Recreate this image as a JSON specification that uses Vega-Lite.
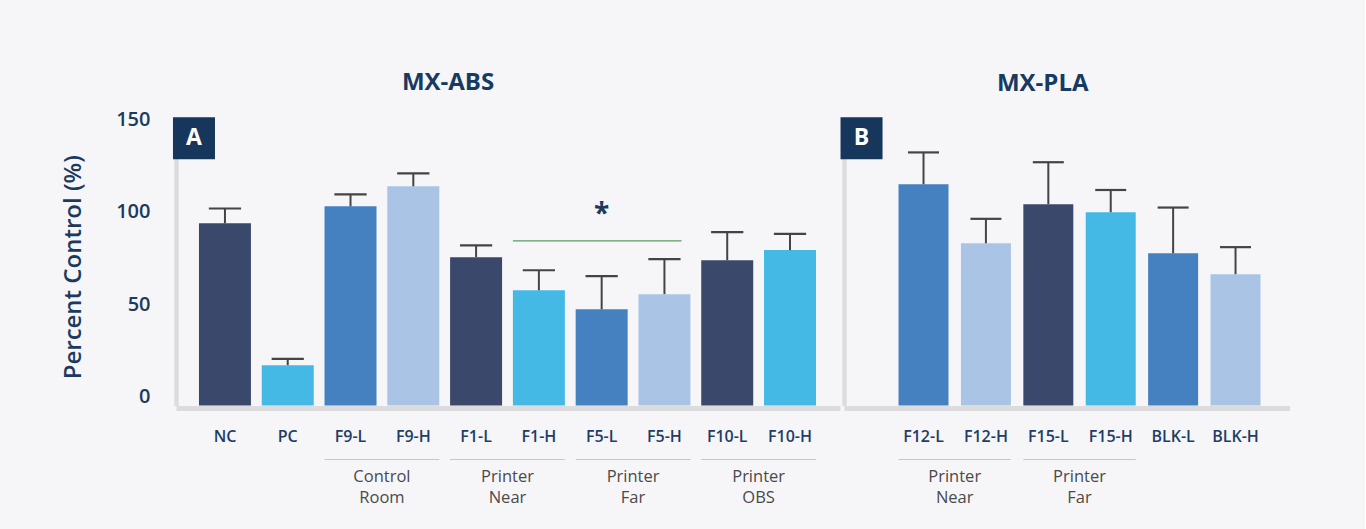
{
  "$schema": "https://vega.github.io/schema/vega-lite/v6.json",
  "background": "#f6f6f9",
  "padding": {"left": 61, "top": 71, "right": 75, "bottom": 24},
  "config": {"font": "Open Sans", "view": {"stroke": null}},
  "spacing": 0,
  "datasets": {
    "abs": [
      {"name": "NC", "value": 98.5, "upper": 106.5},
      {"name": "PC", "value": 21.8, "upper": 25.2},
      {"name": "F9-L", "value": 107.7, "upper": 114.1},
      {"name": "F9-H", "value": 118.5, "upper": 125.5},
      {"name": "F1-L", "value": 80.2, "upper": 86.6},
      {"name": "F1-H", "value": 62.3, "upper": 73.1},
      {"name": "F5-L", "value": 52, "upper": 69.9},
      {"name": "F5-H", "value": 60.2, "upper": 79.1},
      {"name": "F10-L", "value": 78.5, "upper": 93.7},
      {"name": "F10-H", "value": 84, "upper": 92.8}
    ],
    "pla": [
      {"name": "F12-L", "value": 119.6, "upper": 136.8},
      {"name": "F12-H", "value": 87.7, "upper": 100.9},
      {"name": "F15-L", "value": 108.8, "upper": 131.5},
      {"name": "F15-H", "value": 104.5, "upper": 116.5},
      {"name": "BLK-L", "value": 82.3, "upper": 107},
      {"name": "BLK-H", "value": 71, "upper": 85.6}
    ],
    "absGroups": [
      {"first": "F9-L", "second": "F9-H", "label": "Control\nRoom"},
      {"first": "F1-L", "second": "F1-H", "label": "Printer\nNear"},
      {"first": "F5-L", "second": "F5-H", "label": "Printer\nFar"},
      {"first": "F10-L", "second": "F10-H", "label": "Printer\nOBS"}
    ],
    "plaGroups": [
      {"first": "F12-L", "second": "F12-H", "label": "Printer\nNear"},
      {"first": "F15-L", "second": "F15-H", "label": "Printer\nFar"}
    ]
  },
  "resolve": {"scale": {"color": "independent", "x": "independent"}},
  "hconcat": [
    {
      "width": 664,
      "height": 277.5,
      "title": {"text": "MX-ABS", "fontSize": 24, "fontWeight": "bold", "color": "#173a61", "anchor": "middle", "dx": -60, "offset": 14},
      "layer": [
        {
          "data": {"name": "abs"},
          "mark": {"type": "bar"},
          "encoding": {
            "x": {"field": "name", "type": "nominal", "title": null,
              "scale": {"type": "band", "domain": ["NC", "PC", "F9-L", "F9-H", "F1-L", "F1-H", "F5-L", "F5-H", "F10-L", "F10-H"], "paddingInner": 0.172, "paddingOuter": 0.374, "align": 0.489},
              "axis": {"domainColor": "#dcdcdf", "domainWidth": 5, "ticks": false, "labelAngle": 0, "labelFontSize": 16, "labelFontWeight": 600, "labelColor": "#1f3d66", "labelPadding": 20, "offset": 2.5}},
            "y": {"field": "value", "type": "quantitative",
              "scale": {"domain": [0, 150], "nice": false},
              "axis": {"values": [0, 50, 100, 150], "domainColor": "#dcdcdf", "domainWidth": 4.5, "ticks": false, "grid": false, "labelFontSize": 20, "labelFontWeight": 600, "labelColor": "#1b3a5f", "labelPadding": 26, "labelOffset": -9, "title": "Percent Control (%)", "titleFontSize": 24, "titleFontWeight": 600, "titleColor": "#1b3a5f", "titlePadding": 30}},
            "color": {"field": "name", "type": "nominal", "legend": null,
              "scale": {"domain": ["NC", "PC", "F9-L", "F9-H", "F1-L", "F1-H", "F5-L", "F5-H", "F10-L", "F10-H"],
                "range": ["#39486b", "#44b9e6", "#4580c1", "#aac4e5", "#39486b", "#44b9e6", "#4580c1", "#aac4e5", "#39486b", "#44b9e6"]}}
          }
        },
        {
          "data": {"name": "abs"},
          "mark": {"type": "rule", "color": "#444444", "strokeWidth": 2},
          "encoding": {
            "x": {"field": "name", "type": "nominal"},
            "y": {"field": "value", "type": "quantitative"},
            "y2": {"field": "upper"}
          }
        },
        {
          "data": {"name": "abs"},
          "mark": {"type": "rule", "color": "#444444", "strokeWidth": 2.2},
          "encoding": {
            "x": {"field": "name", "type": "nominal", "bandPosition": 0.19},
            "x2": {"field": "name", "bandPosition": 0.81},
            "y": {"field": "upper", "type": "quantitative"}
          }
        },
        {
          "data": {"values": [{"from": "F1-H", "to": "F5-H", "level": 89}]},
          "mark": {"type": "rule", "color": "#5e9a5e", "strokeWidth": 1.2},
          "encoding": {
            "x": {"field": "from", "type": "nominal", "bandPosition": 0},
            "x2": {"field": "to", "bandPosition": 0.83},
            "y": {"field": "level", "type": "quantitative"}
          }
        },
        {
          "data": {"values": [{"at": "F5-L", "level": 103, "sig": "*"}]},
          "mark": {"type": "text", "fontSize": 28, "fontWeight": "bold", "color": "#1b3a5f", "baseline": "middle"},
          "encoding": {
            "x": {"field": "at", "type": "nominal"},
            "y": {"field": "level", "type": "quantitative"},
            "text": {"field": "sig"}
          }
        },
        {
          "data": {"name": "absGroups"},
          "mark": {"type": "rule", "color": "#c5c5d6", "strokeWidth": 1.2},
          "encoding": {
            "x": {"field": "first", "type": "nominal", "bandPosition": 0},
            "x2": {"field": "second", "bandPosition": 1},
            "y": {"datum": -29.2}
          }
        },
        {
          "data": {"name": "absGroups"},
          "mark": {"type": "text", "fontSize": 16.5, "color": "#4a4a4a", "baseline": "top", "lineBreak": "\n", "lineHeight": 21},
          "encoding": {
            "x": {"field": "first", "type": "nominal", "bandPosition": 1.104},
            "y": {"datum": -34.3},
            "text": {"field": "label"}
          }
        },
        {
          "data": {"values": [{"anchor": "NC", "tag": "A"}]},
          "mark": {"type": "square", "filled": true, "opacity": 1, "size": 1764, "color": "#16365c"},
          "encoding": {
            "x": {"field": "anchor", "type": "nominal", "bandPosition": -0.096},
            "y": {"datum": 144.5}
          }
        },
        {
          "data": {"values": [{"anchor": "NC", "tag": "A"}]},
          "mark": {"type": "text", "fontSize": 23, "fontWeight": "bold", "color": "white", "baseline": "middle"},
          "encoding": {
            "x": {"field": "anchor", "type": "nominal", "bandPosition": -0.096},
            "y": {"datum": 144.5},
            "text": {"field": "tag"}
          }
        }
      ]
    },
    {
      "width": 445.5,
      "height": 277.5,
      "title": {"text": "MX-PLA", "fontSize": 24, "fontWeight": "bold", "color": "#173a61", "anchor": "middle", "dx": -24, "offset": 21},
      "layer": [
        {
          "data": {"name": "pla"},
          "mark": {"type": "bar"},
          "encoding": {
            "x": {"field": "name", "type": "nominal", "title": null,
              "scale": {"type": "band", "domain": ["F12-L", "F12-H", "F15-L", "F15-H", "BLK-L", "BLK-H"], "paddingInner": 0.199, "paddingOuter": 0.669, "align": 0.653},
              "axis": {"domainColor": "#dcdcdf", "domainWidth": 5, "ticks": false, "labelAngle": 0, "labelFontSize": 16, "labelFontWeight": 600, "labelColor": "#1f3d66", "labelPadding": 20, "offset": 2.5}},
            "y": {"field": "value", "type": "quantitative",
              "scale": {"domain": [0, 150], "nice": false},
              "axis": {"values": [0, 50, 100, 150], "domainColor": "#dcdcdf", "domainWidth": 4.5, "ticks": false, "grid": false, "labels": false, "title": null}},
            "color": {"field": "name", "type": "nominal", "legend": null,
              "scale": {"domain": ["F12-L", "F12-H", "F15-L", "F15-H", "BLK-L", "BLK-H"],
                "range": ["#4580c1", "#aac4e5", "#39486b", "#44b9e6", "#4580c1", "#aac4e5"]}}
          }
        },
        {
          "data": {"name": "pla"},
          "mark": {"type": "rule", "color": "#444444", "strokeWidth": 2},
          "encoding": {
            "x": {"field": "name", "type": "nominal"},
            "y": {"field": "value", "type": "quantitative"},
            "y2": {"field": "upper"}
          }
        },
        {
          "data": {"name": "pla"},
          "mark": {"type": "rule", "color": "#444444", "strokeWidth": 2.2},
          "encoding": {
            "x": {"field": "name", "type": "nominal", "bandPosition": 0.19},
            "x2": {"field": "name", "bandPosition": 0.81},
            "y": {"field": "upper", "type": "quantitative"}
          }
        },
        {
          "data": {"name": "plaGroups"},
          "mark": {"type": "rule", "color": "#c5c5d6", "strokeWidth": 1.2},
          "encoding": {
            "x": {"field": "first", "type": "nominal", "bandPosition": 0},
            "x2": {"field": "second", "bandPosition": 1},
            "y": {"datum": -29.2}
          }
        },
        {
          "data": {"name": "plaGroups"},
          "mark": {"type": "text", "fontSize": 16.5, "color": "#4a4a4a", "baseline": "top", "lineBreak": "\n", "lineHeight": 21},
          "encoding": {
            "x": {"field": "first", "type": "nominal", "bandPosition": 1.124},
            "y": {"datum": -34.3},
            "text": {"field": "label"}
          }
        },
        {
          "data": {"values": [{"anchor": "F12-L", "tag": "B"}]},
          "mark": {"type": "square", "filled": true, "opacity": 1, "size": 1764, "color": "#16365c"},
          "encoding": {
            "x": {"field": "anchor", "type": "nominal", "bandPosition": -0.74},
            "y": {"datum": 144.5}
          }
        },
        {
          "data": {"values": [{"anchor": "F12-L", "tag": "B"}]},
          "mark": {"type": "text", "fontSize": 23, "fontWeight": "bold", "color": "white", "baseline": "middle"},
          "encoding": {
            "x": {"field": "anchor", "type": "nominal", "bandPosition": -0.74},
            "y": {"datum": 144.5},
            "text": {"field": "tag"}
          }
        }
      ]
    }
  ]
}
